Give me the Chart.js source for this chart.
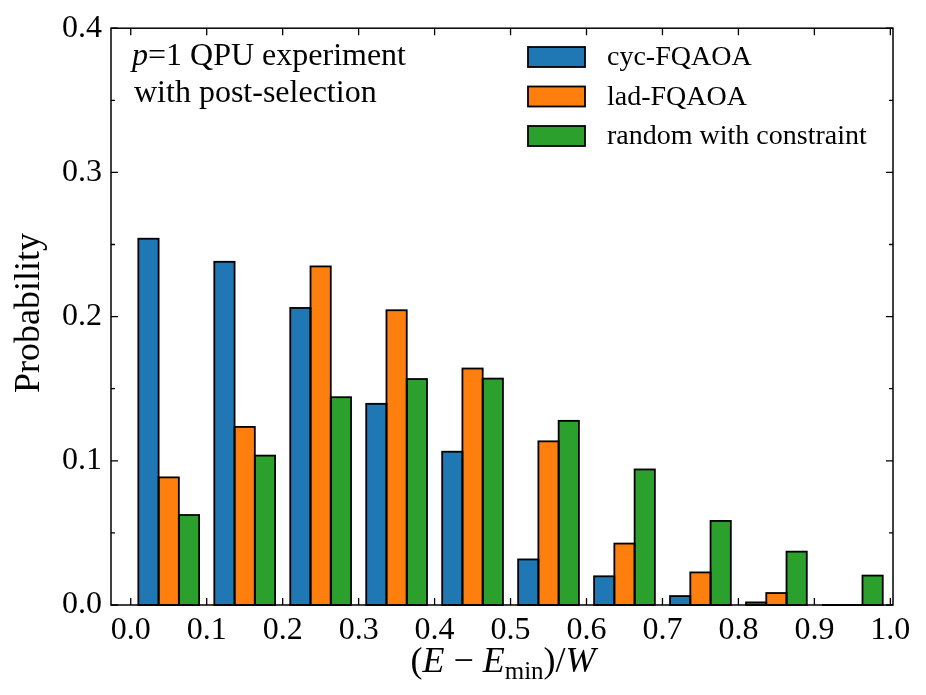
<!DOCTYPE html>
<html lang="en">
<head>
<meta charset="UTF-8">
<title>FQAOA energy histogram</title>
<script src="https://cdn.jsdelivr.net/npm/chart.js@4.4.1/dist/chart.umd.min.js"></script>
<style>
  body{ margin:0; background:#fff; }
  .wrap{ width:926px; height:695px; }
</style>
</head>
<body>
<div class="wrap"><canvas id="chart" width="926" height="695"></canvas></div>
<script>
// bins of (E - Emin)/W, width 0.1
const binCenters = [0.05, 0.15, 0.25, 0.35, 0.45, 0.55, 0.65, 0.75, 0.85, 0.95];
const cycVals = [0.254, 0.238, 0.206, 0.1395, 0.1063, 0.0316, 0.0199, 0.0062, 0.0018, 0.0];
const ladVals = [0.0885, 0.1235, 0.2348, 0.2044, 0.164, 0.1135, 0.0426, 0.0226, 0.0083, 0.0];
const rndVals = [0.0624, 0.1036, 0.1441, 0.1567, 0.157, 0.1277, 0.094, 0.0583, 0.037, 0.0204];
const seriesNames = ['cyc-FQAOA', 'lad-FQAOA', 'random with constraint'];
const seriesColors = ['#1f77b4', '#ff7f0e', '#2ca02c'];
const xTicks = [0.0, 0.1, 0.2, 0.3, 0.4, 0.5, 0.6, 0.7, 0.8, 0.9, 1.0];
const yTicks = [0.0, 0.1, 0.2, 0.3, 0.4];
const yMinorTicks = [0.05, 0.15, 0.25, 0.35];

const barW = 0.08 / 3;   // three bars per bin
const SERIF = '"Liberation Serif", "Times New Roman", serif';

const makeSet = (vals, k) => ({
  label: seriesNames[k],
  data: vals.map((v, i) => ({ x: binCenters[i] + (k - 1) * barW, y: v })),
  backgroundColor: seriesColors[k],
  borderWidth: 0,
  inflateAmount: 0
});

// matplotlib-like frame: edges on bars, inward ticks on all four sides
const framePlugin = {
  id: 'frame',
  afterDatasetsDraw(chart) {
    const ctx = chart.ctx;
    const a = chart.chartArea;
    const xs = chart.scales.x, ys = chart.scales.y;
    ctx.save();
    // bar edges
    ctx.strokeStyle = '#000';
    ctx.lineWidth = 1.8;
    chart.data.datasets.forEach((ds, di) => {
      chart.getDatasetMeta(di).data.forEach(bar => {
        const top = Math.min(bar.y, bar.base), bot = Math.max(bar.y, bar.base);
        ctx.strokeRect(bar.x - bar.width / 2, top, bar.width, bot - top);
      });
    });
    // ticks
    ctx.lineWidth = 1.3;
    ctx.beginPath();
    xTicks.forEach(v => {
      const px = xs.getPixelForValue(v);
      ctx.moveTo(px, a.bottom); ctx.lineTo(px, a.bottom - 7);
      ctx.moveTo(px, a.top); ctx.lineTo(px, a.top + 7);
    });
    yTicks.forEach(v => {
      const py = ys.getPixelForValue(v);
      ctx.moveTo(a.left, py); ctx.lineTo(a.left + 7, py);
      ctx.moveTo(a.right, py); ctx.lineTo(a.right - 7, py);
    });
    yMinorTicks.forEach(v => {
      const py = ys.getPixelForValue(v);
      ctx.moveTo(a.left, py); ctx.lineTo(a.left + 4, py);
      ctx.moveTo(a.right, py); ctx.lineTo(a.right - 4, py);
    });
    ctx.stroke();
    // frame
    ctx.lineWidth = 1.5;
    ctx.strokeRect(a.left, a.top, a.right - a.left, a.bottom - a.top);
    ctx.restore();
  },
  afterDraw(chart) {
    const ctx = chart.ctx;
    ctx.save();
    ctx.fillStyle = '#000';
    ctx.textBaseline = 'alphabetic';

    // annotation
    let x = 132;
    ctx.font = 'italic 32px ' + SERIF;
    ctx.fillText('p', x, 65);
    x += ctx.measureText('p').width;
    ctx.font = '32px ' + SERIF;
    ctx.fillText('=1 QPU experiment', x, 65);
    ctx.fillText('with post-selection', 134, 102);

    // legend
    ctx.font = '28px ' + SERIF;
    ctx.textBaseline = 'middle';
    chart.data.datasets.forEach((ds, i) => {
      const cy = 57 + i * 39.5;
      ctx.fillStyle = ds.backgroundColor;
      ctx.fillRect(528, cy - 10, 57, 20);
      ctx.strokeStyle = '#000';
      ctx.lineWidth = 1.8;
      ctx.strokeRect(528, cy - 10, 57, 20);
      ctx.fillStyle = '#000';
      ctx.fillText(ds.label, 607, cy + 1);
    });

    // y title
    ctx.save();
    ctx.translate(30, 313);
    ctx.rotate(-Math.PI / 2);
    ctx.font = '36px ' + SERIF;
    ctx.textAlign = 'center';
    ctx.textBaseline = 'middle';
    ctx.fillText('Probability', 0, 0);
    ctx.restore();

    // x title: (E - E_min)/W
    const parts = [
      { t: '(', f: '36px ', dy: 0 },
      { t: 'E', f: 'italic 36px ', dy: 0 },
      { t: ' \u2212 ', f: '36px ', dy: 0 },
      { t: 'E', f: 'italic 36px ', dy: 0 },
      { t: 'min', f: '25px ', dy: 7 },
      { t: ')/', f: '36px ', dy: 0 },
      { t: 'W', f: 'italic 36px ', dy: 0 }
    ];
    ctx.textBaseline = 'alphabetic';
    let total = 0;
    parts.forEach(p => { ctx.font = p.f + SERIF; p.w = ctx.measureText(p.t).width; total += p.w; });
    x = 503 - total / 2;
    parts.forEach(p => {
      ctx.font = p.f + SERIF;
      ctx.fillText(p.t, x, 672 + p.dy);
      x += p.w;
    });
    ctx.restore();
  }
};

new Chart(document.getElementById('chart'), {
  type: 'bar',
  data: { datasets: [makeSet(cycVals, 0), makeSet(ladVals, 1), makeSet(rndVals, 2)] },
  options: {
    responsive: false,
    animation: false,
    devicePixelRatio: 1,
    layout: { padding: { top: 22, right: 33, left: 0, bottom: 0 } },
    datasets: { bar: { grouped: false, barPercentage: 1, categoryPercentage: 1 } },
    plugins: { legend: { display: false }, tooltip: { enabled: false } },
    scales: {
      x: {
        type: 'linear',
        offset: false,
        min: -0.026,
        max: 1.0035,
        grid: { display: false, drawTicks: false, offset: false },
        border: { display: false },
        afterBuildTicks: s => { s.ticks = xTicks.map(v => ({ value: v })); },
        afterFit: s => { s.height = 90; },
        ticks: {
          padding: 6,
          maxRotation: 0,
          color: '#000',
          font: { family: SERIF, size: 32 },
          callback: v => Number(v).toFixed(1)
        }
      },
      y: {
        min: 0,
        max: 0.4,
        grid: { display: false, drawTicks: false },
        border: { display: false },
        afterBuildTicks: s => { s.ticks = yTicks.map(v => ({ value: v })); },
        afterFit: s => { s.width = 111; },
        ticks: {
          padding: 9,
          color: '#000',
          font: { family: SERIF, size: 32 },
          callback: v => Number(v).toFixed(1)
        }
      }
    }
  },
  plugins: [framePlugin]
});
</script>
</body>
</html>
